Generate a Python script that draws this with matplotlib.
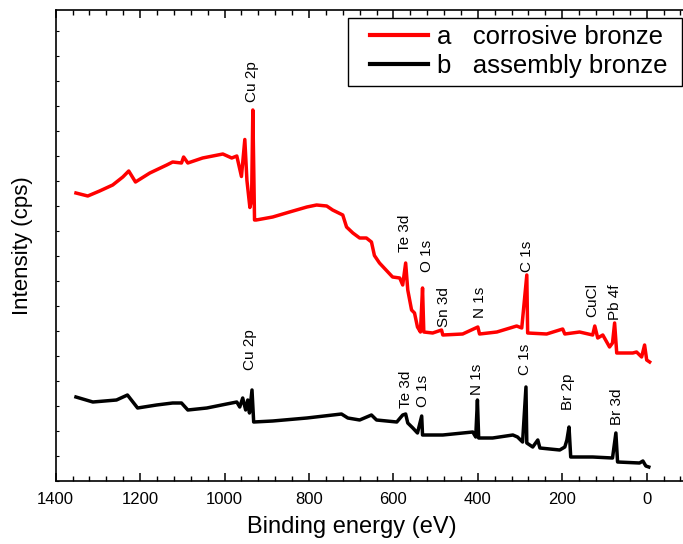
import matplotlib
matplotlib.use("Agg")
import matplotlib.pyplot as plt
import numpy as np
from matplotlib.ticker import MultipleLocator
from matplotlib.legend_handler import HandlerLine2D
from matplotlib.lines import Line2D

plt.rcParams['font.family'] = ['Liberation Sans', 'DejaVu Sans']

# ---- data (binding energy in eV, intensity in arbitrary units) ----
red_ev = [1352, 1324, 1296, 1265, 1241, 1227, 1211, 1177, 1137, 1123, 1102, 1097, 1087,
          1052, 1004, 983, 971, 960, 952, 947, 940, 936, 933, 929, 925, 886, 846, 805,
          782, 758, 744, 720, 711, 696, 680, 664, 652, 645, 633, 602, 585, 578, 571, 566,
          557, 550, 543, 536, 531, 528, 507, 486, 483, 436, 400, 396, 355, 308, 296, 284,
          282, 237, 199, 194, 159, 128, 123, 116, 104, 88, 81, 76, 71, 33, 24, 12, 5, 0, -7]
red_int = [287.5, 284.5, 289.5, 295.5, 303.5, 309.5, 298.5, 307.5, 315.5, 318.5, 317.5,
           323.5, 317.5, 322.5, 326.5, 322.5, 324.5, 304, 341, 300, 273, 280, 370.5,
           260.5, 260.5, 263.5, 268.5, 273.5, 275.5, 274.5, 270.5, 265.5, 253.5, 247.5,
           242.5, 242.5, 238.5, 225, 217.5, 203.5, 202.5, 195.5, 217.5, 190.5, 170.5,
           167.5, 153.5, 148.5, 192.5, 148.5, 147.5, 150.5, 145.5, 146.5, 153.5, 146.5,
           148.5, 154.5, 152.5, 205.5, 147.5, 146.5, 151.5, 146.5, 148.5, 145.5, 154.5,
           142.5, 145.5, 133.5, 137.5, 157.5, 127.5, 127.5, 128.5, 123.5, 135.5, 120.5, 118.5]

black_ev = [1352, 1312, 1256, 1230, 1206, 1161, 1123, 1102, 1087, 1042, 995, 971, 964, 957,
            950, 945, 941, 935, 931, 886, 805, 723, 708, 680, 652, 640, 592, 578, 571, 566,
            554, 543, 533, 531, 483, 412, 405, 401, 398, 365, 317, 306, 294, 286, 284, 270,
            258, 253, 206, 194, 189, 184, 180, 128, 81, 73, 69, 17, 9, 2, -5]
black_int = [83.5, 78.5, 80.5, 85.5, 72.5, 75.5, 77.5, 77.5, 70.5, 72.5, 76.5, 78.5, 73.5,
             82.5, 70.5, 80.5, 67.5, 90.5, 58.5, 59.5, 62.5, 66.5, 62.5, 60.5, 65.5, 60.5,
             58.5, 65.5, 66.5, 57.5, 52.5, 47.5, 64.5, 45.5, 45.5, 48.5, 43.5, 80.5, 42.5,
             42.5, 45.5, 43.5, 38.5, 93.5, 37.5, 33.5, 40.5, 32.5, 30.5, 33.5, 40.5, 53.5,
             23.5, 23.5, 22.5, 47.5, 18.5, 17.5, 19.5, 14.5, 13.5]

red_labels = ["Cu 2p", "Te 3d", "O 1s", "Sn 3d", "N 1s", "C 1s", "CuCl", "Pb 4f"]
red_label_ev = [936, 573, 521, 481, 396, 284, 130, 75]
red_label_y = [378.5, 228.5, 208.5, 153.5, 162.5, 208.5, 163.5, 160.5]

black_labels = ["Cu 2p", "Te 3d", "O 1s", "N 1s", "C 1s", "Br 2p", "Br 3d"]
black_label_ev = [940, 569, 531, 403, 289, 187, 71]
black_label_y = [110.5, 72.5, 73.5, 85.5, 105.5, 70.5, 55.5]

series_names = ["a   corrosive bronze ", "b   assembly bronze "]

# ---- figure ----
fig = plt.figure(figsize=(6.83, 5.44), dpi=100)
ax = fig.add_axes([55.7 / 683, (544 - 480.5) / 544, 1 - 55.7 / 683, (480.5 - 10) / 544])

ax.plot(red_ev, red_int, color='#ff0000', lw=2.5, label=series_names[0], solid_joinstyle='round')
ax.plot(black_ev, black_int, color='black', lw=2.5, label=series_names[1], solid_joinstyle='round')

for t, x, y in zip(red_labels, red_label_ev, red_label_y):
    ax.text(x, y, t, rotation=90, ha='center', va='bottom', fontsize=11)
for t, x, y in zip(black_labels, black_label_ev, black_label_y):
    ax.text(x, y, t, rotation=90, ha='center', va='bottom', fontsize=11)

ax.set_xlim(1400, -86)
ax.set_ylim(0, 470.5)

ax.xaxis.set_major_locator(MultipleLocator(200))
ax.xaxis.set_minor_locator(MultipleLocator(40))
ax.yaxis.set_major_locator(MultipleLocator(25))
ax.tick_params(axis='x', which='major', direction='in', length=6, width=1.1, top=True,
               labelsize=12, pad=8)
ax.tick_params(axis='x', which='minor', direction='in', length=3.5, width=1.0, top=True)
ax.tick_params(axis='y', which='major', direction='in', length=2.5, width=0.8,
               labelleft=False, right=False)
ax.spines['right'].set_visible(False)
for s in ['left', 'bottom', 'top']:
    ax.spines[s].set_linewidth(1.2)

ax.set_xlabel("Binding energy (eV)", fontsize=17, labelpad=6)
ax.xaxis.set_label_coords((352 - 55.7) / (683 - 55.7), -0.075)
ax.set_ylabel("Intensity (cps)", fontsize=16, labelpad=16)

leg = ax.legend(loc='upper right', bbox_to_anchor=(682 / 683, 1 - 18 / 544),
                bbox_transform=fig.transFigure, borderaxespad=0, fontsize=18.5,
                frameon=True, fancybox=False, framealpha=1, edgecolor='black',
                handlelength=2.85, handletextpad=0.35, labelspacing=0.2, borderpad=0.28,
                handler_map={Line2D: HandlerLine2D(xpad=0.6)})
leg.get_frame().set_linewidth(1.0)
for line in leg.get_lines():
    line.set_linewidth(3)

fig.savefig("out.png", dpi=100)
